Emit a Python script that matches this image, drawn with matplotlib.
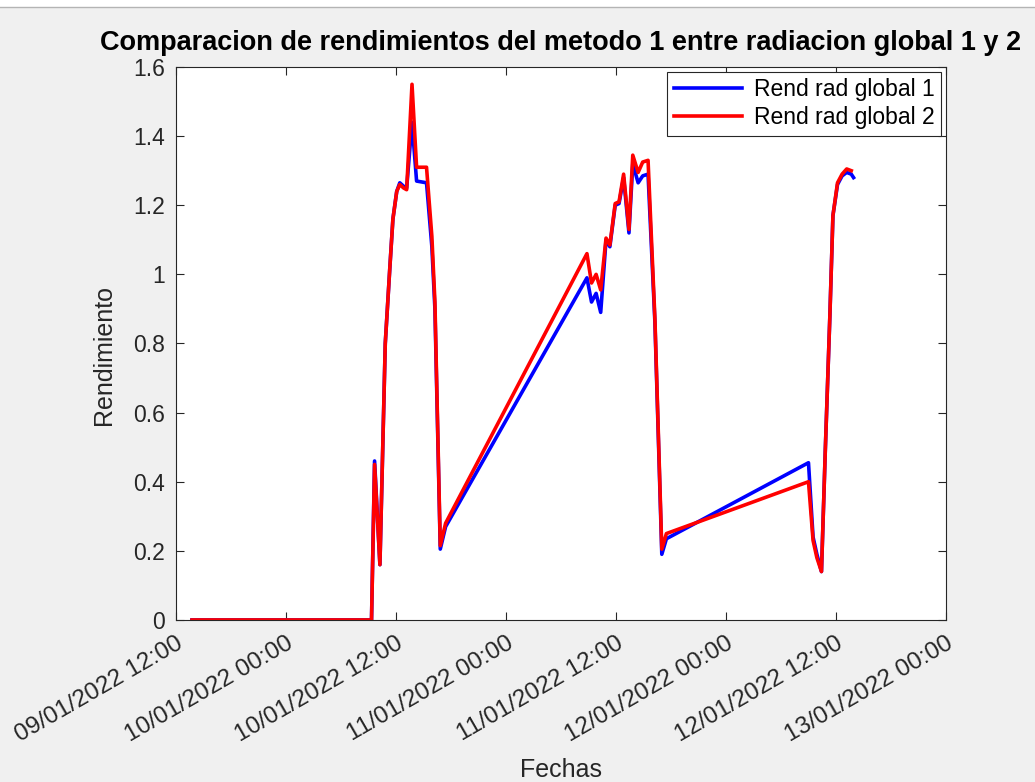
import numpy as np
import pandas as pd
import matplotlib
matplotlib.use("Agg")
import matplotlib.pyplot as plt
import matplotlib.dates as mdates
import matplotlib.patches as mpatches

plt.rcParams['font.family'] = ['Liberation Sans', 'DejaVu Sans']

# fechas de las muestras
fechas = ["2022-01-09 13:45", "2022-01-10 09:20", "2022-01-10 09:40", "2022-01-10 10:15",
          "2022-01-10 10:50", "2022-01-10 11:20", "2022-01-10 11:40", "2022-01-10 12:05",
          "2022-01-10 12:25", "2022-01-10 12:50", "2022-01-10 13:10", "2022-01-10 13:45",
          "2022-01-10 14:15", "2022-01-10 15:20", "2022-01-10 15:55", "2022-01-10 16:15",
          "2022-01-10 16:50", "2022-01-10 17:25",
          "2022-01-11 08:50", "2022-01-11 09:20", "2022-01-11 09:50", "2022-01-11 10:20",
          "2022-01-11 10:55", "2022-01-11 11:20", "2022-01-11 11:55", "2022-01-11 12:20",
          "2022-01-11 12:50", "2022-01-11 13:25", "2022-01-11 13:50", "2022-01-11 14:25",
          "2022-01-11 14:55", "2022-01-11 15:30", "2022-01-11 16:15", "2022-01-11 17:00",
          "2022-01-11 17:30",
          "2022-01-12 09:00", "2022-01-12 09:30", "2022-01-12 09:55", "2022-01-12 10:25",
          "2022-01-12 10:50", "2022-01-12 11:20", "2022-01-12 11:40", "2022-01-12 12:10",
          "2022-01-12 12:40", "2022-01-12 13:10", "2022-01-12 13:40", "2022-01-12 13:55"]

rend_global_1 = [0, 0, 0.46, 0.16,
                 0.80, 1.02, 1.16, 1.24,
                 1.265, 1.255, 1.25, 1.44,
                 1.27, 1.265, 1.08, 0.90,
                 0.205, 0.27,
                 0.99, 0.92, 0.945, 0.89,
                 1.10, 1.08, 1.20, 1.205,
                 1.28, 1.12, 1.32, 1.265,
                 1.285, 1.29, 0.86, 0.19,
                 0.235,
                 0.455, 0.24, 0.19, 0.14,
                 0.49, 0.88, 1.17, 1.26,
                 1.285, 1.295, 1.29, 1.28]

rend_global_2 = [0, 0, 0.45, 0.16,
                 0.80, 1.02, 1.16, 1.24,
                 1.26, 1.25, 1.245, 1.55,
                 1.31, 1.31, 1.11, 0.92,
                 0.215, 0.28,
                 1.06, 0.975, 1.0, 0.955,
                 1.105, 1.085, 1.205, 1.21,
                 1.29, 1.13, 1.345, 1.295,
                 1.325, 1.33, 0.87, 0.205,
                 0.25,
                 0.40, 0.23, 0.18, 0.14,
                 0.49, 0.88, 1.17, 1.265,
                 1.29, 1.305, 1.30, np.nan]

x_ticks = pd.date_range("2022-01-09 12:00", "2022-01-13 00:00", freq="12h")
y_ticks = [0, 0.2, 0.4, 0.6, 0.8, 1, 1.2, 1.4, 1.6]

t = pd.to_datetime(fechas)
gris = '#262626'

fig = plt.figure(figsize=(10.35, 7.82), dpi=100, facecolor='#f0f0f0')
# franja blanca de la ventana
fig.patches.append(mpatches.Rectangle((0, 0.991), 1, 0.009, transform=fig.transFigure,
                                      facecolor='white', edgecolor='none'))
fig.lines.append(plt.Line2D([0, 1], [0.991, 0.991], transform=fig.transFigure,
                            color='#b4b4b4', lw=1))

ax = fig.add_axes([0.170, 0.2072, 0.744, 0.7071])
ax.plot(t, rend_global_1, color='blue', lw=2.6, label='Rend rad global 1')
ax.plot(t, rend_global_2, color='red', lw=2.6, label='Rend rad global 2')

ax.set_xlim(x_ticks[0], x_ticks[-1])
ax.set_ylim(0, 1.6)
ax.set_xticks(x_ticks)
ax.xaxis.set_major_formatter(mdates.DateFormatter('%d/%m/%Y %H:%M'))
ax.set_yticks(y_ticks)
ax.set_yticklabels([f'{v:g}' for v in y_ticks])

ax.tick_params(direction='in', length=6, width=0.8, colors=gris,
               top=True, right=True)
ax.tick_params(axis='y', pad=8, labelsize=16.5)
ax.tick_params(axis='x', pad=9, labelsize=17.5)
for lab in ax.get_xticklabels():
    lab.set_rotation(30)
    lab.set_ha('right')
    lab.set_rotation_mode('anchor')
for s in ax.spines.values():
    s.set_color(gris)
    s.set_linewidth(0.8)

ax.set_title('Comparacion de rendimientos del metodo 1 entre radiacion global 1 y 2',
             fontsize=19.5, fontweight='bold', color='black', pad=12)
ax.set_xlabel('Fechas', fontsize=18, color=gris)
ax.xaxis.set_label_coords(0.5, -0.25)
ax.set_ylabel('Rendimiento', fontsize=18, color=gris)
ax.yaxis.set_label_coords(-0.078, 0.48)

leg = ax.legend(loc='upper right', fontsize=16.5, handlelength=3.0, fancybox=False,
                framealpha=1, edgecolor=gris, borderaxespad=0.2, borderpad=0.3,
                labelspacing=0.2, handletextpad=0.5)
leg.get_frame().set_linewidth(0.8)

fig.savefig('out.png', dpi=100, facecolor=fig.get_facecolor())
